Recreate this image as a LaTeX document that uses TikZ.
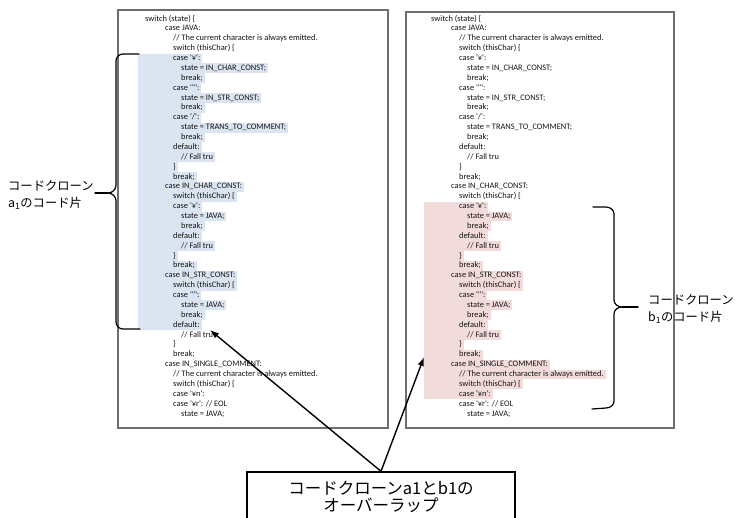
\documentclass[tikz,border=0pt]{standalone}
\usepackage{fontspec}
\setmainfont{Carlito}
\newfontfamily\code{Carlito}
\newfontfamily\jp{Noto Sans CJK JP}
\usetikzlibrary{arrows.meta}
\definecolor{hlb}{RGB}{219,229,241}
\definecolor{hlp}{RGB}{242,220,219}
\definecolor{codec}{RGB}{20,20,20}
\definecolor{panelc}{RGB}{110,110,110}
\tikzset{
 codeline/.style={anchor=west, inner xsep=0pt, inner ysep=0pt, minimum height=9.95pt,
   text height=6pt, text depth=2pt, font=\code\fontsize{8.4}{9.8}\selectfont, text=codec},
 hb/.style={fill=hlb}, hp/.style={fill=hlp}, nofill/.style={},
 panel/.style={draw=panelc, line width=1.1pt},
 brace/.style={draw=black, line width=1.2pt, line join=round, line cap=round},
 arr/.style={draw=black, line width=1.4pt, -{Latex[length=9pt,width=6.5pt]}},
 sidelabel/.style={font=\jp\fontsize{12.3}{17}\selectfont, align=left, inner sep=0pt, anchor=west},
 ovbox/.style={draw=black, line width=1.4pt, fill=white, minimum width=268pt, minimum height=49pt,
   align=center, font=\jp\fontsize{16.5}{17}\selectfont, inner sep=0pt}
}
\newcommand\cdl[5]{%
 \node[codeline,#4] (L#1) at (138,{19+#1*9.875}) {\hspace*{#2pt}#3\hspace*{2pt}};
 \node[codeline,#5] (R#1) at (424,{19+#1*9.875}) {\hspace*{#2pt}#3\hspace*{2pt}};}
\begin{document}
\begin{tikzpicture}[x=1pt,y=-1pt]
\useasboundingbox[fill=white] (0,0) rectangle (735,517);
% panels
\draw[panel] (118,10) rectangle (388,428);
\draw[panel] (406,12) rectangle (674,428);
% code lines
\cdl{0}{7}{switch (state) \{}{nofill}{nofill}
\cdl{1}{27}{case JAVA:}{nofill}{nofill}
\cdl{2}{35}{// The current character is always emitted.}{nofill}{nofill}
\cdl{3}{35}{switch (thisChar) \{}{nofill}{nofill}
\cdl{4}{35}{case '¥':}{hb}{nofill}
\cdl{5}{43}{state = IN\_CHAR\_CONST;}{hb}{nofill}
\cdl{6}{43}{break;}{hb}{nofill}
\cdl{7}{35}{case '"':}{hb}{nofill}
\cdl{8}{43}{state = IN\_STR\_CONST;}{hb}{nofill}
\cdl{9}{43}{break;}{hb}{nofill}
\cdl{10}{35}{case '/':}{hb}{nofill}
\cdl{11}{43}{state = TRANS\_TO\_COMMENT;}{hb}{nofill}
\cdl{12}{43}{break;}{hb}{nofill}
\cdl{13}{35}{default:}{hb}{nofill}
\cdl{14}{43}{// Fall tru}{hb}{nofill}
\cdl{15}{35}{\}}{hb}{nofill}
\cdl{16}{35}{break;}{hb}{nofill}
\cdl{17}{27}{case IN\_CHAR\_CONST:}{hb}{nofill}
\cdl{18}{35}{switch (thisChar) \{}{hb}{nofill}
\cdl{19}{35}{case '¥':}{hb}{hp}
\cdl{20}{43}{state = JAVA;}{hb}{hp}
\cdl{21}{43}{break;}{hb}{hp}
\cdl{22}{35}{default:}{hb}{hp}
\cdl{23}{43}{// Fall tru}{hb}{hp}
\cdl{24}{35}{\}}{hb}{hp}
\cdl{25}{35}{break;}{hb}{hp}
\cdl{26}{27}{case IN\_STR\_CONST:}{hb}{hp}
\cdl{27}{35}{switch (thisChar) \{}{hb}{hp}
\cdl{28}{35}{case '"':}{hb}{hp}
\cdl{29}{43}{state = JAVA;}{hb}{hp}
\cdl{30}{43}{break;}{hb}{hp}
\cdl{31}{35}{default:}{hb}{hp}
\cdl{32}{43}{// Fall tru}{nofill}{hp}
\cdl{33}{35}{\}}{nofill}{hp}
\cdl{34}{35}{break;}{nofill}{hp}
\cdl{35}{27}{case IN\_SINGLE\_COMMENT:}{nofill}{hp}
\cdl{36}{35}{// The current character is always emitted.}{nofill}{hp}
\cdl{37}{35}{switch (thisChar) \{}{nofill}{hp}
\cdl{38}{35}{case '¥n':}{nofill}{hp}
\cdl{39}{35}{case '¥r': // EOL}{nofill}{nofill}
\cdl{40}{43}{state = JAVA;}{nofill}{nofill}
% braces
\draw[brace] (139,54) -- (123,54) to[out=180,in=90] (116,61) -- (116,185)
  to[out=-90,in=0] (108,193) to[out=0,in=90] (116,201) -- (116,322)
  to[out=-90,in=180] (123,329) -- (140,329);
\draw[brace] (108,193) -- (95,193);
\draw[brace] (593,207) -- (606,207) to[out=0,in=90] (614,214) -- (614,300)
  to[out=-90,in=180] (622,307) to[out=180,in=90] (614,314) -- (614,401)
  to[out=-90,in=0] (606,408) -- (592,409);
\draw[brace] (622,307) -- (638,307);
% labels
\node[sidelabel] (lblA) at (8,195.5) {コードクローン\\a\textsubscript{1}のコード片};
\node[sidelabel] (lblB) at (648,309) {コードクローン\\b\textsubscript{1}のコード片};
% overlap box and arrows
\node[ovbox] (ov) at (381,496.5) {コードクローンa1とb1の\\オーバーラップ};
\coordinate (lt) at (210,330);
\coordinate (rt) at (424,357);
\draw[arr] (ov.north) -- (lt);
\draw[arr] (ov.north) -- (rt);
\end{tikzpicture}
\end{document}
